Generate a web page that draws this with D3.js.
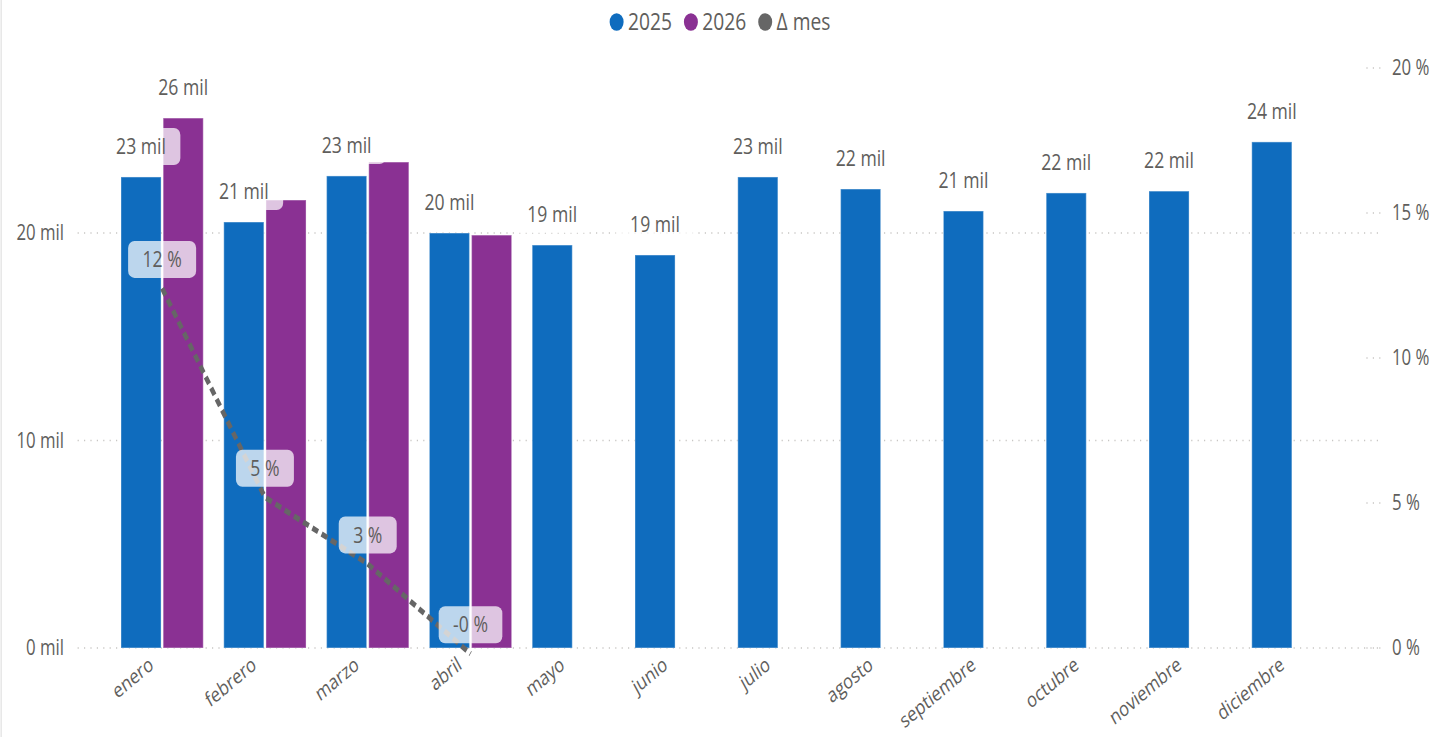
<!DOCTYPE html>
<meta charset="utf-8">
<title>2025 vs 2026</title>
<style>
body { margin: 0; background: #fff; }
svg { display: block; }
text { font-family: "Segoe UI", "Open Sans", sans-serif; fill: #605E5C; }
</style>
<body>
<svg id="chart"></svg>
<script src="https://d3js.org/d3.v7.min.js"></script>
<script>

var meses = ["enero", "febrero", "marzo", "abril", "mayo", "junio", "julio",
             "agosto", "septiembre", "octubre", "noviembre", "diciembre"];
var v2025 = [22700, 20530, 22750, 20000, 19420, 18940, 22700, 22120, 21060, 21930, 22020, 24390];
var v2026 = [25540, 21590, 23420, 19900];
var deltaMes = [0.124, 0.052, 0.029, -0.002];
var ticksIzq = [0, 10000, 20000];
var ticksDer = [0, 0.05, 0.10, 0.15, 0.20];
var series = ["2025", "2026", "Δ mes"];
// labels power bi keeps for 2026 (the rest are hidden by overlap)
var mostrar2026 = [true, false, false, false];

// the picture is squeezed horizontally, so draw wider and squeeze
var SX = 0.8,
    W = 1436 / SX,
    H = 737;

var color = d3.scaleOrdinal()
    .domain(series)
    .range(["#0F6CBE", "#8A3193", "#666666"]);

var svg = d3.select("#chart")
    .attr("width", 1436)
    .attr("height", H)
    .attr("viewBox", "0 0 " + W + " " + H)
    .attr("preserveAspectRatio", "none");

var x = d3.scaleBand()
    .domain(meses)
    .range([138.4, 1680.4])
    .paddingInner(0.2)
    .paddingOuter(0.1);

var xs = d3.scaleBand()
    .domain(["2025", "2026"])
    .range([0, x.bandwidth()])
    .paddingInner(0.05);

var y = d3.scaleLinear()
    .domain([0, 27952])
    .range([648, 68]);

var yR = d3.scaleLinear()
    .domain([0, 0.20])
    .range([648, 68]);

// faint border on the left
svg.append("line")
    .attr("x1", 1.5).attr("x2", 1.5)
    .attr("y1", 0).attr("y2", H)
    .style("stroke", "#E8E8E8")
    .style("stroke-width", 2);

// left axis + gridlines
var axisIzq = svg.append("g").attr("class", "y axis");
axisIzq.selectAll("line")
    .data(ticksIzq)
  .enter().append("line")
    .attr("x1", 97).attr("x2", 1724)
    .attr("y1", function(d) { return y(d); })
    .attr("y2", function(d) { return y(d); })
    .style("stroke", "#C8C6C4")
    .style("stroke-width", 1.5)
    .style("stroke-dasharray", "1.5 6.5");
axisIzq.selectAll("text")
    .data(ticksIzq)
  .enter().append("text")
    .attr("x", 80)
    .attr("y", function(d) { return y(d); })
    .attr("dy", ".35em")
    .style("text-anchor", "end")
    .style("font-size", "21px")
    .text(function(d) { return (d / 1000) + " mil"; });

// right axis
var axisDer = svg.append("g").attr("class", "y axis");
axisDer.selectAll("line")
    .data(ticksDer)
  .enter().append("line")
    .attr("x1", 1708).attr("x2", 1728)
    .attr("y1", function(d) { return yR(d); })
    .attr("y2", function(d) { return yR(d); })
    .style("stroke", "#C8C6C4")
    .style("stroke-width", 1.5)
    .style("stroke-dasharray", "1.5 6.5");
axisDer.selectAll("text")
    .data(ticksDer)
  .enter().append("text")
    .attr("x", 1740)
    .attr("y", function(d) { return yR(d); })
    .attr("dy", ".35em")
    .style("font-size", "21px")
    .text(function(d) { return Math.round(d * 100) + " %"; });

// month labels
svg.append("g").selectAll("text")
    .data(meses)
  .enter().append("text")
    .attr("transform", function(d) {
      return "translate(" + (x(d) + x.bandwidth() / 2 - 18) + ",655) rotate(-34)";
    })
    .attr("dy", ".75em")
    .style("text-anchor", "end")
    .style("font-size", "20.5px")
    .text(function(d) { return d; });

// bars
var barras = [];
meses.forEach(function(m, i) {
  barras.push({mes: m, serie: "2025", v: v2025[i], i: i});
  if (v2026[i] != null) barras.push({mes: m, serie: "2026", v: v2026[i], i: i});
});

svg.append("g").selectAll(".bar")
    .data(barras)
  .enter().append("rect")
    .attr("class", "bar")
    .attr("x", function(d) { return x(d.mes) + xs(d.serie); })
    .attr("width", xs.bandwidth())
    .attr("y", function(d) { return y(d.v); })
    .attr("height", function(d) { return y(0) - y(d.v); })
    .style("fill", function(d) { return color(d.serie); })
    .style("stroke", "#fff")
    .style("stroke-opacity", 0.3)
    .style("stroke-width", 1.5);

// Δ mes line
var linea = d3.line()
    .x(function(d, i) { return x(meses[i]) + x.bandwidth() / 2; })
    .y(function(d) { return yR(d); });

svg.append("path")
    .datum(deltaMes)
    .attr("d", linea)
    .style("fill", "none")
    .style("stroke", color("Δ mes"))
    .style("stroke-width", 5.5)
    .style("stroke-dasharray", "8 5");

// labels with the translucent rounded box
function etiqueta(g, cx, cy, txt) {
  var t = g.append("text")
      .attr("x", cx)
      .attr("y", cy)
      .attr("dy", ".35em")
      .style("text-anchor", "middle")
      .style("font-size", "22px")
      .text(txt);
  var w = t.node().getComputedTextLength() + 36;
  g.insert("rect", "text")
      .attr("x", cx - w / 2)
      .attr("y", cy - 18.5)
      .attr("width", w)
      .attr("height", 37)
      .attr("rx", 8).attr("ry", 7)
      .style("fill", "#fff")
      .style("fill-opacity", 0.72);
}

var capa = svg.append("g");
barras.forEach(function(d) {
  if (d.serie == "2026" && !mostrar2026[d.i]) return;
  var cx = x(d.mes) + xs(d.serie) + xs.bandwidth() / 2;
  etiqueta(capa.append("g"), cx, y(d.v) - 30.5, Math.round(d.v / 1000) + " mil");
});

deltaMes.forEach(function(d, i) {
  var cx = x(meses[i]) + x.bandwidth() / 2;
  var pct = Math.round(d * 100);
  var txt = (d < 0 && pct === 0 ? "-0" : pct) + " %";
  etiqueta(capa.append("g"), cx, yR(d) - 29, txt);
});

// legend
var leyenda = svg.append("g");
var lx = 0;
series.forEach(function(s) {
  var item = leyenda.append("g").attr("transform", "translate(" + lx + ",0)");
  item.append("circle")
      .attr("cx", 8.75)
      .attr("cy", 22)
      .attr("r", 8.75)
      .style("fill", color(s));
  var t = item.append("text")
      .attr("x", 23)
      .attr("y", 22)
      .attr("dy", ".35em")
      .style("font-size", "24px")
      .text(s);
  lx += 23 + t.node().getComputedTextLength() + 15;
});
lx -= 15;
leyenda.attr("transform", "translate(" + (900 - lx / 2) + ",0)");

</script>
</body>
